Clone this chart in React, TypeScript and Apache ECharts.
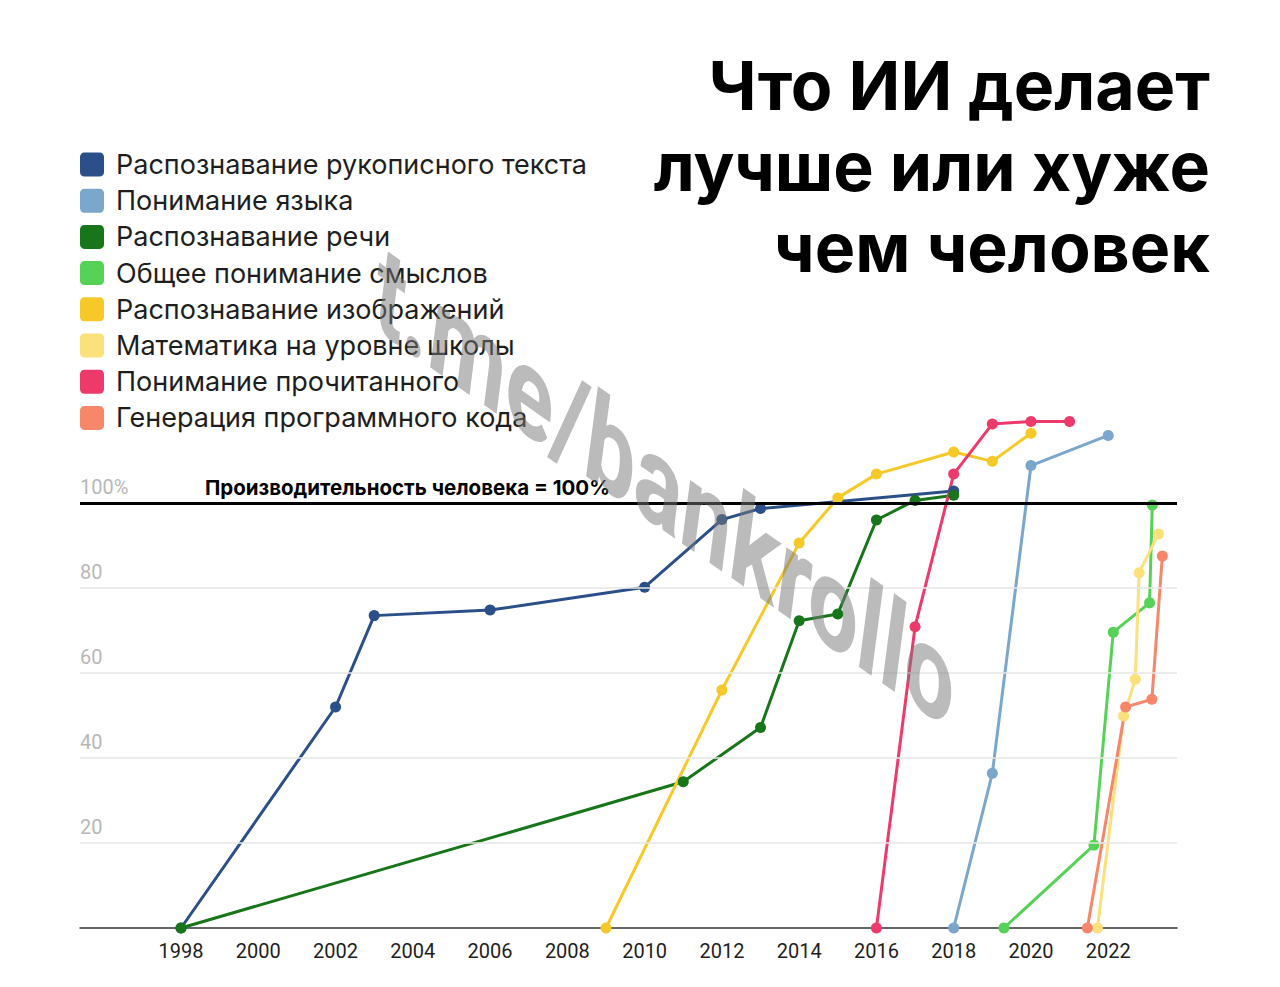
import React, { useEffect, useRef } from "react";
import * as echarts from "echarts";

const seriesNames = [
  "Распознавание рукописного текста",
  "Понимание языка",
  "Распознавание речи",
  "Общее понимание смыслов",
  "Распознавание изображений",
  "Математика на уровне школы",
  "Понимание прочитанного",
  "Генерация программного кода",
];
const seriesColors = ["#2b5089", "#7ba7cc", "#17761a", "#56d356", "#f7c928", "#fbe07c", "#ee3a6a", "#f7866b"];

const handwritingYears = [1998, 2002, 2003, 2006, 2010, 2012, 2013, 2018];
const handwritingVals = [0, 52, 73.5, 74.8, 80.2, 96.1, 98.7, 102.8];
const languageYears = [2018, 2019, 2020, 2022];
const languageVals = [0, 36.4, 108.8, 115.9];
const speechYears = [1998, 2011, 2013, 2014, 2015, 2016, 2017, 2018];
const speechVals = [0, 34.4, 47.2, 72.3, 73.9, 96, 100.6, 101.8];
const commonYears = [2019.3, 2021.63, 2022.13, 2023.07, 2023.14];
const commonVals = [0, 19.5, 69.6, 76.5, 99.5];
const imageYears = [2009, 2012, 2014, 2015, 2016, 2018, 2019, 2020];
const imageVals = [0, 56, 90.6, 101.2, 106.8, 112, 109.8, 116.4];
const mathYears = [2021.72, 2022.4, 2022.7, 2022.8, 2023.3];
const mathVals = [0, 49.9, 58.5, 83.6, 92.7];
const readingYears = [2016, 2017, 2018, 2019, 2020, 2021];
const readingVals = [0, 70.9, 106.8, 118.6, 119.2, 119.2];
const codeYears = [2021.46, 2022.45, 2023.13, 2023.4];
const codeVals = [0, 52, 53.8, 87.5];

const allYears = [handwritingYears, languageYears, speechYears, commonYears, imageYears, mathYears, readingYears, codeYears];
const allVals = [handwritingVals, languageVals, speechVals, commonVals, imageVals, mathVals, readingVals, codeVals];

const xTickLabels = [1998, 2000, 2002, 2004, 2006, 2008, 2010, 2012, 2014, 2016, 2018, 2020, 2022];
const gridValues = [20, 40, 60, 80];
const humanLevel = 100;

const titleLines = ["Что ИИ делает", "лучше или хуже", "чем человек"];
const humanLabel = "Производительность человека = 100%";
const watermark = "t.me/bankrollo";

const FONT = "Roboto, 'Noto Sans', sans-serif";
const FONT2 = "Inter, Roboto, sans-serif";
const legendIcon =
  "path://M4,0 H18 A4,4 0 0 1 22,4 V18 A4,4 0 0 1 18,22 H4 A4,4 0 0 1 0,18 V4 A4,4 0 0 1 4,0 Z";

export default function App() {
  const ref = useRef<HTMLDivElement>(null);
  useEffect(() => {
    if (!ref.current) return;
    const chart = echarts.init(ref.current, undefined, { renderer: "svg" });
    const lineSeries = seriesNames.map((name, i) => ({
      name,
      type: "line",
      z: 3,
      data: allYears[i].map((y, j) => [y, allVals[i][j]]),
      symbol: "circle",
      symbolSize: 11,
      showSymbol: true,
      color: seriesColors[i],
      itemStyle: { color: seriesColors[i] },
      lineStyle: { color: seriesColors[i], width: 3 },
      emphasis: { disabled: true },
    }));
    const option: any = {
      animation: false,
      backgroundColor: "#ffffff",
      textStyle: { fontFamily: FONT },
      grid: { left: 80, right: 103, top: 418, bottom: 59 },
      legend: {
        data: seriesNames,
        orient: "vertical",
        left: 75,
        top: 146,
        itemWidth: 24,
        itemHeight: 24,
        itemGap: 9.2,
        icon: legendIcon,
        selectedMode: false,
        textStyle: { fontSize: 27, color: "#1e1e1e", fontFamily: FONT2, padding: [0, 0, 0, 7] },
      },
      xAxis: {
        type: "value",
        min: 1995.385,
        max: 2023.78,
        axisLine: { show: true, lineStyle: { color: "#333333", width: 1.5 } },
        axisTick: { show: false },
        splitLine: { show: false },
        axisLabel: {
          customValues: xTickLabels,
          fontSize: 20,
          color: "#1e1e1e",
          margin: 13,
          fontFamily: FONT,
          formatter: (v: number) => String(Math.round(v)),
        },
      },
      yAxis: {
        type: "value",
        min: 0,
        max: 120,
        interval: 20,
        axisLine: { show: false },
        axisTick: { show: false },
        splitLine: { show: false },
        axisLabel: {
          inside: true,
          margin: 0,
          fontSize: 20,
          color: "#b8b8b8",
          verticalAlign: "bottom",
          lineHeight: 20,
          padding: [0, 0, 6, 0],
          fontFamily: FONT,
          formatter: (v: number) => (v === 100 ? "100%" : v === 0 || v === 120 ? "" : String(v)),
        },
      },
      series: [
        {
          name: "__grid",
          type: "line",
          z: 1,
          data: [],
          silent: true,
          markLine: {
            silent: true,
            symbol: "none",
            animation: false,
            label: { show: false },
            lineStyle: { color: "#e6e6e6", width: 1.5, type: "solid" },
            data: gridValues.map((v) => ({ yAxis: v })),
          },
        },
        ...lineSeries,
        {
          name: "__human",
          type: "line",
          z: 4,
          data: [],
          silent: true,
          markLine: {
            silent: true,
            symbol: "none",
            animation: false,
            label: { show: false },
            lineStyle: { color: "#000000", width: 3, type: "solid" },
            data: [{ yAxis: humanLevel }],
          },
        },
      ],
      graphic: [
        {
          type: "text",
          x: 1210,
          y: 44,
          z: 10,
          style: {
            text: titleLines.join("\n"),
            align: "right",
            verticalAlign: "top",
            fontSize: 68,
            lineHeight: 81,
            fontWeight: 700,
            fontFamily: FONT2,
            fill: "#000000",
          },
        },
        {
          type: "text",
          x: 205,
          y: 487,
          z: 10,
          style: {
            text: humanLabel,
            align: "left",
            verticalAlign: "middle",
            fontSize: 20.5,
            fontWeight: 700,
            fontFamily: FONT2,
            fill: "#000000",
          },
        },
        {
          type: "text",
          x: 375,
          y: 350,
          scaleX: 0.69,
          skewY: -0.61,
          z: 20,
          silent: true,
          style: {
            text: watermark,
            align: "left",
            verticalAlign: "bottom",
            fontSize: 131,
            fontWeight: "bold",
            fontStyle: "italic",
            fontFamily: FONT,
            fill: "rgba(120,120,120,0.5)",
          },
        },
      ],
    };
    chart.setOption(option);
    return () => chart.dispose();
  }, []);
  return (
    <div
      ref={ref}
      style={{ position: "fixed", left: 0, top: 0, width: 1280, height: 987, background: "#fff" }}
    />
  );
}
